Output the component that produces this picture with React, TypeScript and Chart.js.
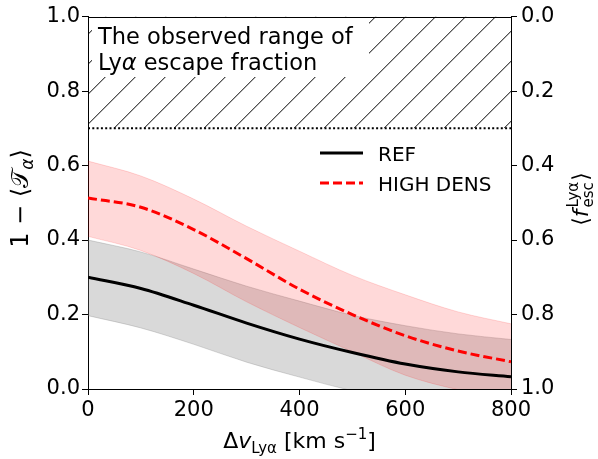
import React, { useEffect, useRef } from "react";
import { Chart, registerables } from "chart.js";

Chart.register(...registerables);

// ---- data ----
const velocity = [0, 100, 200, 300, 400, 500, 600, 700, 800];
const refMedian = [0.3, 0.27, 0.225, 0.177, 0.134, 0.098, 0.067, 0.046, 0.033];
const refUpper = [0.4, 0.368, 0.322, 0.276, 0.236, 0.198, 0.17, 0.148, 0.133];
const refLower = [0.197, 0.164, 0.12, 0.072, 0.032, -0.005, -0.035, -0.06, -0.08];
const highDensMedian = [0.513, 0.488, 0.428, 0.35, 0.268, 0.2, 0.143, 0.102, 0.073];
const highDensUpper = [0.612, 0.572, 0.51, 0.437, 0.37, 0.305, 0.253, 0.207, 0.175];
const highDensLower = [0.41, 0.372, 0.31, 0.234, 0.165, 0.1, 0.037, -0.002, -0.03];

const xTickValues = [0, 200, 400, 600, 800];
const yTickValues = [0, 0.2, 0.4, 0.6, 0.8, 1.0];
const observedRange = [0.7, 1.0];
const seriesNames = ["REF", "HIGH DENS"];
const annotationLine1 = "The observed range of";
const annotationLine2 = ["Ly", "α", " escape fraction"];

const FAMILY = "'DejaVu Sans', sans-serif";

type Run = { t: string; size: number; italic?: boolean; dy?: number; dx?: number; stack?: boolean };

function fontOf(r: Run) {
  return `${r.italic ? "italic " : ""}${r.size}px ${FAMILY}`;
}

function measureRuns(ctx: CanvasRenderingContext2D, runs: Run[]) {
  let x = 0;
  let pend = 0;
  const xs: number[] = [];
  for (const r of runs) {
    x += r.dx || 0;
    ctx.font = fontOf(r);
    const w = ctx.measureText(r.t).width;
    xs.push(x);
    if (r.stack) pend = Math.max(pend, w);
    else {
      x += Math.max(w, pend);
      pend = 0;
    }
  }
  return { xs, width: x };
}

function drawRuns(ctx: CanvasRenderingContext2D, runs: Run[], x: number, y: number, align: "left" | "center") {
  const { xs, width } = measureRuns(ctx, runs);
  const x0 = align === "center" ? x - width / 2 : x;
  ctx.textBaseline = "alphabetic";
  ctx.textAlign = "left";
  runs.forEach((r, i) => {
    ctx.font = fontOf(r);
    ctx.fillText(r.t, x0 + xs[i], y + (r.dy || 0));
  });
}

export default function App() {
  const ref = useRef<HTMLCanvasElement>(null);

  useEffect(() => {
    document.body.style.margin = "0";
    const canvas = ref.current!;
    const pts = (ys: number[]) => velocity.map((v, i) => ({ x: v, y: ys[i] }));
    const grey = "rgba(128,128,128,0.3)";
    const pink = "rgba(255,0,0,0.15)";

    const decor = {
      id: "decor",
      beforeDatasetsDraw(chart: any) {
        const ctx: CanvasRenderingContext2D = chart.ctx;
        const { left, right } = chart.chartArea;
        const ys = chart.scales.y;
        const yTop = ys.getPixelForValue(observedRange[1]);
        const yBot = ys.getPixelForValue(observedRange[0]);
        const h = yBot - yTop;
        ctx.save();
        ctx.beginPath();
        ctx.rect(left, yTop, right - left, h);
        ctx.clip();
        ctx.strokeStyle = "#000";
        ctx.lineWidth = 1;
        ctx.beginPath();
        const spacing = 30;
        for (let x0 = left + 26 - spacing * 5; x0 < right + spacing; x0 += spacing) {
          ctx.moveTo(x0, yBot);
          ctx.lineTo(x0 + h, yTop);
        }
        ctx.stroke();
        // white text box
        ctx.fillStyle = "#fff";
        ctx.fillRect(92, 18, 277, 59);
        ctx.fillStyle = "#000";
        drawRuns(ctx, [{ t: annotationLine1, size: 22.5 }], 98, 43.5, "left");
        drawRuns(
          ctx,
          [
            { t: annotationLine2[0], size: 22.5 },
            { t: annotationLine2[1], size: 22.5, italic: true },
            { t: annotationLine2[2], size: 22.5 },
          ],
          98,
          70,
          "left"
        );
        ctx.restore();
        // dotted line
        ctx.save();
        ctx.strokeStyle = "#000";
        ctx.lineWidth = 2;
        ctx.setLineDash([2, 2.3]);
        ctx.beginPath();
        ctx.moveTo(left, yBot);
        ctx.lineTo(right, yBot);
        ctx.stroke();
        ctx.restore();
      },
      afterDraw(chart: any) {
        const ctx: CanvasRenderingContext2D = chart.ctx;
        const { left, right, top } = chart.chartArea;
        ctx.save();
        // top spine
        ctx.strokeStyle = "#000";
        ctx.lineWidth = 1;
        ctx.beginPath();
        ctx.moveTo(left, Math.round(top) + 0.5);
        ctx.lineTo(right, Math.round(top) + 0.5);
        ctx.stroke();

        // legend
        ctx.lineWidth = 3;
        ctx.strokeStyle = "#000";
        ctx.beginPath();
        ctx.moveTo(320, 153);
        ctx.lineTo(363, 153);
        ctx.stroke();
        ctx.strokeStyle = "#ff0000";
        ctx.setLineDash([9, 4]);
        ctx.beginPath();
        ctx.moveTo(320, 183);
        ctx.lineTo(363, 183);
        ctx.stroke();
        ctx.setLineDash([]);
        ctx.fillStyle = "#000";
        ctx.font = `20px ${FAMILY}`;
        ctx.textAlign = "left";
        ctx.textBaseline = "alphabetic";
        ctx.fillText(seriesNames[0], 378, 161);
        ctx.fillText(seriesNames[1], 378, 191);

        // x title
        drawRuns(
          ctx,
          [
            { t: "Δ", size: 22 },
            { t: "v", size: 22, italic: true },
            { t: "Lyα", size: 15, dy: 5 },
            { t: " [km s", size: 22 },
            { t: "−1", size: 15, dy: -9 },
            { t: "]", size: 22 },
          ],
          299.5,
          448,
          "center"
        );

        // left y title
        ctx.save();
        ctx.translate(28, 198.5);
        ctx.rotate(-Math.PI / 2);
        drawRuns(
          ctx,
          [
            { t: "1 − ⟨", size: 24 },
            { t: "𝒯", size: 24 },
            { t: "α", size: 17, italic: true, dy: 5 },
            { t: "⟩", size: 24 },
          ],
          0,
          0,
          "center"
        );
        ctx.restore();

        // right y title
        ctx.save();
        ctx.translate(588, 199);
        ctx.rotate(-Math.PI / 2);
        drawRuns(
          ctx,
          [
            { t: "⟨", size: 22 },
            { t: "f", size: 22, italic: true },
            { t: "Lyα", size: 15, dy: -10, stack: true, dx: 2 },
            { t: "esc", size: 15, dy: 5 },
            { t: "⟩", size: 22, dx: 1 },
          ],
          0,
          0,
          "center"
        );
        ctx.restore();
        ctx.restore();
      },
    };

    const tickFont = { family: "'DejaVu Sans'", size: 21 };
    const gridCfg = {
      display: true,
      drawOnChartArea: false,
      drawTicks: true,
      tickLength: 6,
      color: "#000",
      tickWidth: 1,
    };
    const borderCfg = { display: true, color: "#000", width: 1 };

    const band = (label: string, ys: number[], color: string, fill: any, order: number) => ({
      label,
      data: pts(ys),
      borderColor: color,
      borderWidth: 1,
      backgroundColor: color,
      fill,
      pointRadius: 0,
      order,
      cubicInterpolationMode: "monotone",
    });

    const chart = new Chart(canvas, {
      type: "line",
      data: {
        datasets: [
          band("refUpper", refUpper, grey, "+1", 3),
          band("refLower", refLower, grey, false, 3),
          band("hdUpper", highDensUpper, pink, "+1", 2),
          band("hdLower", highDensLower, pink, false, 2),
          {
            label: seriesNames[0],
            data: pts(refMedian),
            borderColor: "#000",
            borderWidth: 3,
            fill: false,
            pointRadius: 0,
            order: 1,
            cubicInterpolationMode: "monotone",
          },
          {
            label: seriesNames[1],
            data: pts(highDensMedian),
            borderColor: "#ff0000",
            borderWidth: 3,
            borderDash: [9, 4],
            fill: false,
            pointRadius: 0,
            order: 0,
            cubicInterpolationMode: "monotone",
          },
        ] as any,
      },
      options: {
        responsive: false,
        animation: false,
        devicePixelRatio: 1,
        layout: { padding: { top: 14, left: 0, right: 0, bottom: 0 } },
        plugins: { legend: { display: false }, tooltip: { enabled: false } },
        scales: {
          x: {
            type: "linear",
            position: "bottom",
            min: 0,
            max: 800,
            afterBuildTicks: (s: any) => {
              s.ticks = xTickValues.map((v) => ({ value: v }));
            },
            ticks: {
              color: "#000",
              font: tickFont,
              padding: 3,
              maxRotation: 0,
              autoSkip: false,
              callback: (v: any) => String(v),
            },
            grid: gridCfg,
            border: borderCfg,
            afterFit: (s: any) => {
              s.height = 70;
            },
          },
          y: {
            type: "linear",
            position: "left",
            min: 0,
            max: 1,
            afterBuildTicks: (s: any) => {
              s.ticks = yTickValues.map((v) => ({ value: v }));
            },
            ticks: {
              color: "#000",
              font: tickFont,
              padding: 2,
              autoSkip: false,
              callback: (v: any) => Number(v).toFixed(1),
            },
            grid: gridCfg,
            border: borderCfg,
            afterFit: (s: any) => {
              s.width = 88;
            },
          },
          y2: {
            type: "linear",
            position: "right",
            min: 0,
            max: 1,
            reverse: true,
            afterBuildTicks: (s: any) => {
              s.ticks = yTickValues.map((v) => ({ value: v }));
            },
            ticks: {
              color: "#000",
              font: tickFont,
              padding: 4,
              autoSkip: false,
              callback: (v: any) => Number(v).toFixed(1),
            },
            grid: gridCfg,
            border: borderCfg,
            afterFit: (s: any) => {
              s.width = 87;
            },
          },
        },
      } as any,
      plugins: [decor],
    });
    return () => chart.destroy();
  }, []);

  return <canvas ref={ref} width={598} height={459} style={{ display: "block", width: 598, height: 459 }} />;
}
